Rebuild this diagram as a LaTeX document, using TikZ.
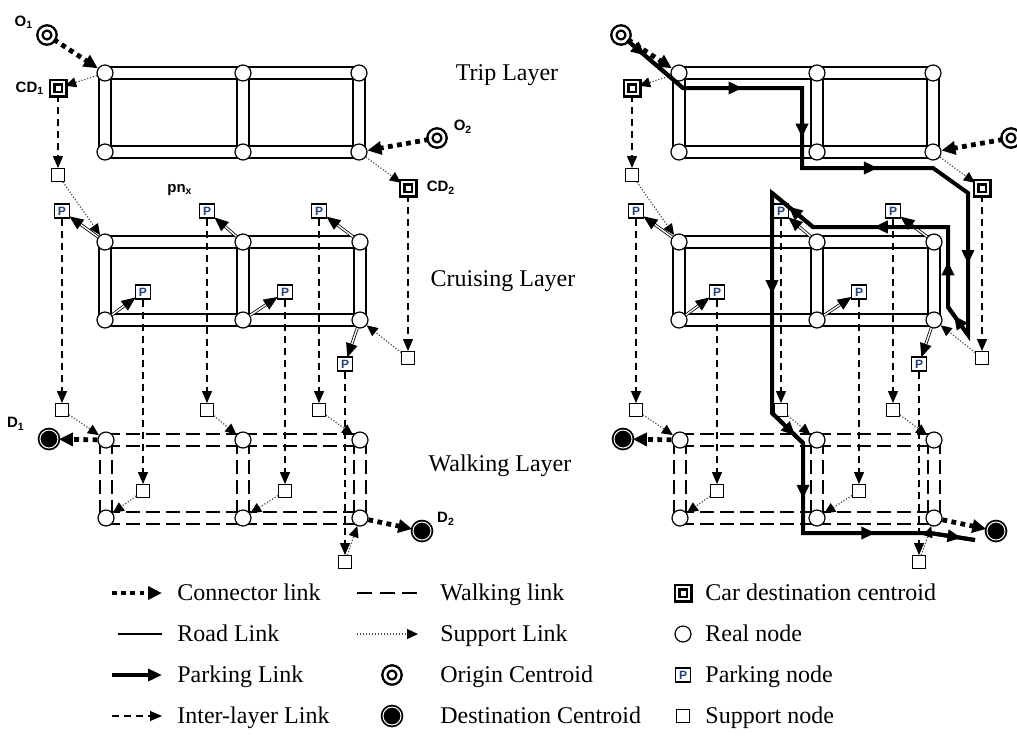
\documentclass[tikz,border=0pt]{standalone}
\usepackage{fontspec}
\setmainfont{Liberation Serif}
\setsansfont{Liberation Sans}
\usetikzlibrary{arrows.meta,decorations.markings,backgrounds}
\definecolor{pblue}{RGB}{35,65,125}
\tikzset{
  real/.style={circle,draw,line width=0.6pt,fill=white,minimum size=8pt,inner sep=0pt},
  supp/.style={rectangle,draw,line width=0.55pt,fill=white,minimum size=6.4pt,inner sep=0pt},
  park/.style={rectangle,draw,line width=0.6pt,fill=white,minimum width=7.6pt,minimum height=7pt,inner sep=0pt,font=\sffamily\bfseries\fontsize{6}{6}\selectfont,text=pblue},
  orig/.style={circle,draw,double=white,double distance=1.4pt,line width=1.2pt,fill=white,minimum size=7pt,inner sep=0pt},
  dest/.style={circle,draw,double=white,double distance=0.5pt,line width=0.9pt,fill=black,minimum size=9pt,inner sep=0pt},
  cdc/.style={rectangle,draw,double=white,double distance=1.1pt,line width=1.2pt,fill=white,minimum size=6pt,inner sep=0pt},
  roadout/.style={line width=6.6pt},
  roadin/.style={line width=5.4pt,white},
  walkout/.style={line width=6.6pt,dash pattern=on 7pt off 3pt},
  conn/.style={line width=2.4pt,dash pattern=on 2.4pt off 2.2pt,-{Triangle[length=7pt,width=6.5pt]}},
  suppl/.style={line width=0.6pt,dash pattern=on 0.6pt off 0.9pt,black!70,-{Triangle[length=5.5pt,width=5pt,color=black]}},
  inter/.style={line width=0.6pt,dash pattern=on 3.5pt off 2.5pt,-{Triangle[length=6pt,width=5pt]}},
  plink/.style={double,double distance=0.7pt,line width=0.4pt,shorten >=2pt,
    postaction={draw=none,decorate,decoration={markings,mark=at position 1 with {\fill[black] (0.5pt,0) -- (-6.5pt,3pt) -- (-6.5pt,-3pt) -- cycle;}}}},
  route/.style={line width=2pt,line join=miter},
  midarr/.style={postaction={decorate},decoration={markings,mark=at position #1 with {\arrow{Triangle[length=7pt,width=6pt]}}}},
  lbl/.style={font=\sffamily\bfseries\fontsize{7.5}{8}\selectfont,inner sep=0pt},
  layer/.style={font=\fontsize{12}{14}\selectfont},
  legtxt/.style={font=\fontsize{12}{14}\selectfont,anchor=base west,inner sep=0pt,yshift=-3.8pt},
}
\begin{document}
\begin{tikzpicture}[x=0.5pt,y=-0.5pt]
\useasboundingbox (0,0) rectangle (1017,735);
\clip (0,0) rectangle (1017,735);
\foreach \s/\dx in {L/0,R/574}{
\begin{scope}[shift={(\dx,0)}]
  % real nodes
  \node[real] (\s T11) at (105,73) {};
  \node[real] (\s T12) at (243,73) {};
  \node[real] (\s T13) at (359,73) {};
  \node[real] (\s T21) at (105,152) {};
  \node[real] (\s T22) at (243,152) {};
  \node[real] (\s T23) at (359,152) {};
  \node[real] (\s C11) at (105,242) {};
  \node[real] (\s C12) at (243,242) {};
  \node[real] (\s C13) at (360,242) {};
  \node[real] (\s C21) at (105,320) {};
  \node[real] (\s C22) at (243,320) {};
  \node[real] (\s C23) at (360,320) {};
  \node[real] (\s W11) at (106,440) {};
  \node[real] (\s W12) at (243,440) {};
  \node[real] (\s W13) at (360,440) {};
  \node[real] (\s W21) at (106,518) {};
  \node[real] (\s W22) at (243,518) {};
  \node[real] (\s W23) at (360,518) {};
  % centroids
  \node[orig] (\s O1) at (47,35) {};
  \node[orig] (\s O2) at (437,138) {};
  \node[cdc] (\s CD1) at (58,88) {};
  \node[cdc] (\s CD2) at (408,188) {};
  \node[dest] (\s D1) at (49,439) {};
  \node[dest] (\s D2) at (422,531) {};
  % support nodes
  \node[supp] (\s S1) at (58,175) {};
  \node[supp] (\s S2) at (408,358) {};
  \node[supp] (\s S3) at (62,410) {};
  \node[supp] (\s S4) at (207,410) {};
  \node[supp] (\s S5) at (319,410) {};
  \node[supp] (\s S6) at (143,491) {};
  \node[supp] (\s S7) at (285,491) {};
  \node[supp] (\s S8) at (345,562) {};
  % parking nodes
  \node[park] (\s P1) at (62,211) {P};
  \node[park] (\s P2) at (207,211) {P};
  \node[park] (\s P3) at (319,211) {P};
  \node[park] (\s P4) at (143,292) {P};
  \node[park] (\s P5) at (285,292) {P};
  \node[park] (\s P6) at (345,364) {P};
  \begin{pgfonlayer}{background}
    \foreach \a/\b in {T11/T12,T12/T13,T21/T22,T22/T23,T11/T21,T12/T22,T13/T23,
                       C11/C12,C12/C13,C21/C22,C22/C23,C11/C21,C12/C22,C13/C23}
      \draw[roadout] (\s\a.center) -- (\s\b.center);
    \foreach \a/\b in {T11/T12,T12/T13,T21/T22,T22/T23,T11/T21,T12/T22,T13/T23,
                       C11/C12,C12/C13,C21/C22,C22/C23,C11/C21,C12/C22,C13/C23}
      \draw[roadin] (\s\a.center) -- (\s\b.center);
    \foreach \a/\b in {W11/W12,W12/W13,W21/W22,W22/W23,W11/W21,W12/W22,W13/W23}
      \draw[walkout] (\s\a.center) -- (\s\b.center);
    \foreach \a/\b in {W11/W12,W12/W13,W21/W22,W22/W23,W11/W21,W12/W22,W13/W23}
      \draw[roadin] (\s\a.center) -- (\s\b.center);
    \foreach \a/\b in {CD1/S1,CD2/S2,P1/S3,P2/S4,P3/S5,P4/S6,P5/S7,P6/S8}
      \draw[inter] (\s\a) -- (\s\b);
  \end{pgfonlayer}
  \foreach \a/\b in {O1/T11,O2/T23,W11/D1,W23/D2}
    \draw[conn] (\s\a) -- (\s\b);
  \foreach \a/\b in {T11/CD1,T23/CD2,S1/C11,S2/C23,S3/W11,S4/W12,S5/W13,S6/W21,S7/W22,S8/W23}
    \draw[suppl] (\s\a) -- (\s\b);
  \foreach \a/\b in {C11/P1,C12/P2,C13/P3,C21/P4,C22/P5,C23/P6}
    \draw[plink] (\s\a) -- (\s\b);
\end{scope}
}
% labels (left diagram only)
\node[lbl] (lO1) at (24,22) {O\textsubscript{1}};
\node[lbl] (lCD1) at (30,88) {CD\textsubscript{1}};
\node[lbl] (lO2) at (463,127) {O\textsubscript{2}};
\node[lbl] (lCD2) at (441,188) {CD\textsubscript{2}};
\node[lbl] (lpn) at (180,190) {pn\textsubscript{x}};
\node[lbl] (lD1) at (16,424) {D\textsubscript{1}};
\node[lbl] (lD2) at (446,519) {D\textsubscript{2}};
\node[layer] (trip) at (507,75) {Trip Layer};
\node[layer] (cruise) at (503,281) {Cruising Layer};
\node[layer] (walk) at (500,466) {Walking Layer};
% route on right diagram
\coordinate (r1) at (683,88);
\coordinate (r2) at (802,88);
\coordinate (r3) at (802,168);
\coordinate (r4) at (933,168);
\coordinate (r5) at (968,193);
\coordinate (r6) at (968,335);
\coordinate (r7) at (948,307);
\coordinate (r8) at (948,227);
\coordinate (r9) at (813,227);
\coordinate (r10) at (772,193);
\coordinate (r11) at (772,413);
\coordinate (r12) at (803,443);
\coordinate (r13) at (803,533);
\coordinate (r14) at (930,533);
\coordinate (r15) at (975,540);
\draw[route] (RO1) -- (r1) -- (r2) -- (r3) -- (r4) -- (r5) -- (r6) -- (r7) -- (r8) -- (r9) -- (r10) -- (r11) -- (r12) -- (r13) -- (r14) -- (r15);
\draw[route,midarr=0.32] (RO1) -- (r1);
\draw[route,midarr=0.5] (r1) -- (r2);
\draw[route,midarr=0.62] (r2) -- (r3);
\draw[route,midarr=0.58] (r3) -- (r4);
\draw[route,midarr=0.5] (r5) -- (r6);
\draw[route,midarr=0.7] (r6) -- (r7);
\draw[route,midarr=0.57] (r7) -- (r8);
\draw[route,midarr=0.55] (r8) -- (r9);
\draw[route,midarr=0.6] (r9) -- (r10);
\draw[route,midarr=0.46] (r10) -- (r11);
\draw[route,midarr=0.75] (r11) -- (r12);
\draw[route,midarr=0.62] (r12) -- (r13);
\draw[route,midarr=0.57] (r13) -- (r14);
\draw[route,midarr=0.7] (r14) -- (r15);
% legend
\coordinate (a1) at (112,593); \coordinate (b1) at (162,593);
\coordinate (a2) at (118,634); \coordinate (b2) at (162,634);
\coordinate (a3) at (112,675); \coordinate (b3) at (162,675);
\coordinate (a4) at (112,716); \coordinate (b4) at (162,716);
\draw[conn] (a1) -- (b1);
\draw[line width=0.6pt] (a2) -- (b2);
\draw[route,-{Triangle[length=7pt,width=6pt]}] (a3) -- (b3);
\draw[inter] (a4) -- (b4);
\node[legtxt] (t1) at (177,593) {Connector link};
\node[legtxt] (t2) at (177,634) {Road Link};
\node[legtxt] (t3) at (177,675) {Parking Link};
\node[legtxt] (t4) at (177,716) {Inter-layer Link};
\coordinate (c1) at (357,593); \coordinate (d1) at (418,593);
\coordinate (c2) at (357,634); \coordinate (d2) at (418,634);
\draw[line width=0.6pt,dash pattern=on 7.5pt off 3.75pt] (c1) -- (d1);
\draw[suppl] (c2) -- (d2);
\node[orig] (lgO) at (392,675) {};
\node[dest] (lgD) at (392,716) {};
\node[legtxt] (u1) at (440,593) {Walking link};
\node[legtxt] (u2) at (440,634) {Support Link};
\node[legtxt] (u3) at (440,675) {Origin Centroid};
\node[legtxt] (u4) at (440,716) {Destination Centroid};
\node[cdc] (lgCD) at (683,593) {};
\node[real] (lgR) at (683,634) {};
\node[park] (lgP) at (683,675) {P};
\node[supp] (lgS) at (683,716) {};
\node[legtxt] (v1) at (705,593) {Car destination centroid};
\node[legtxt] (v2) at (705,634) {Real node};
\node[legtxt] (v3) at (705,675) {Parking node};
\node[legtxt] (v4) at (705,716) {Support node};
\end{tikzpicture}
\end{document}
